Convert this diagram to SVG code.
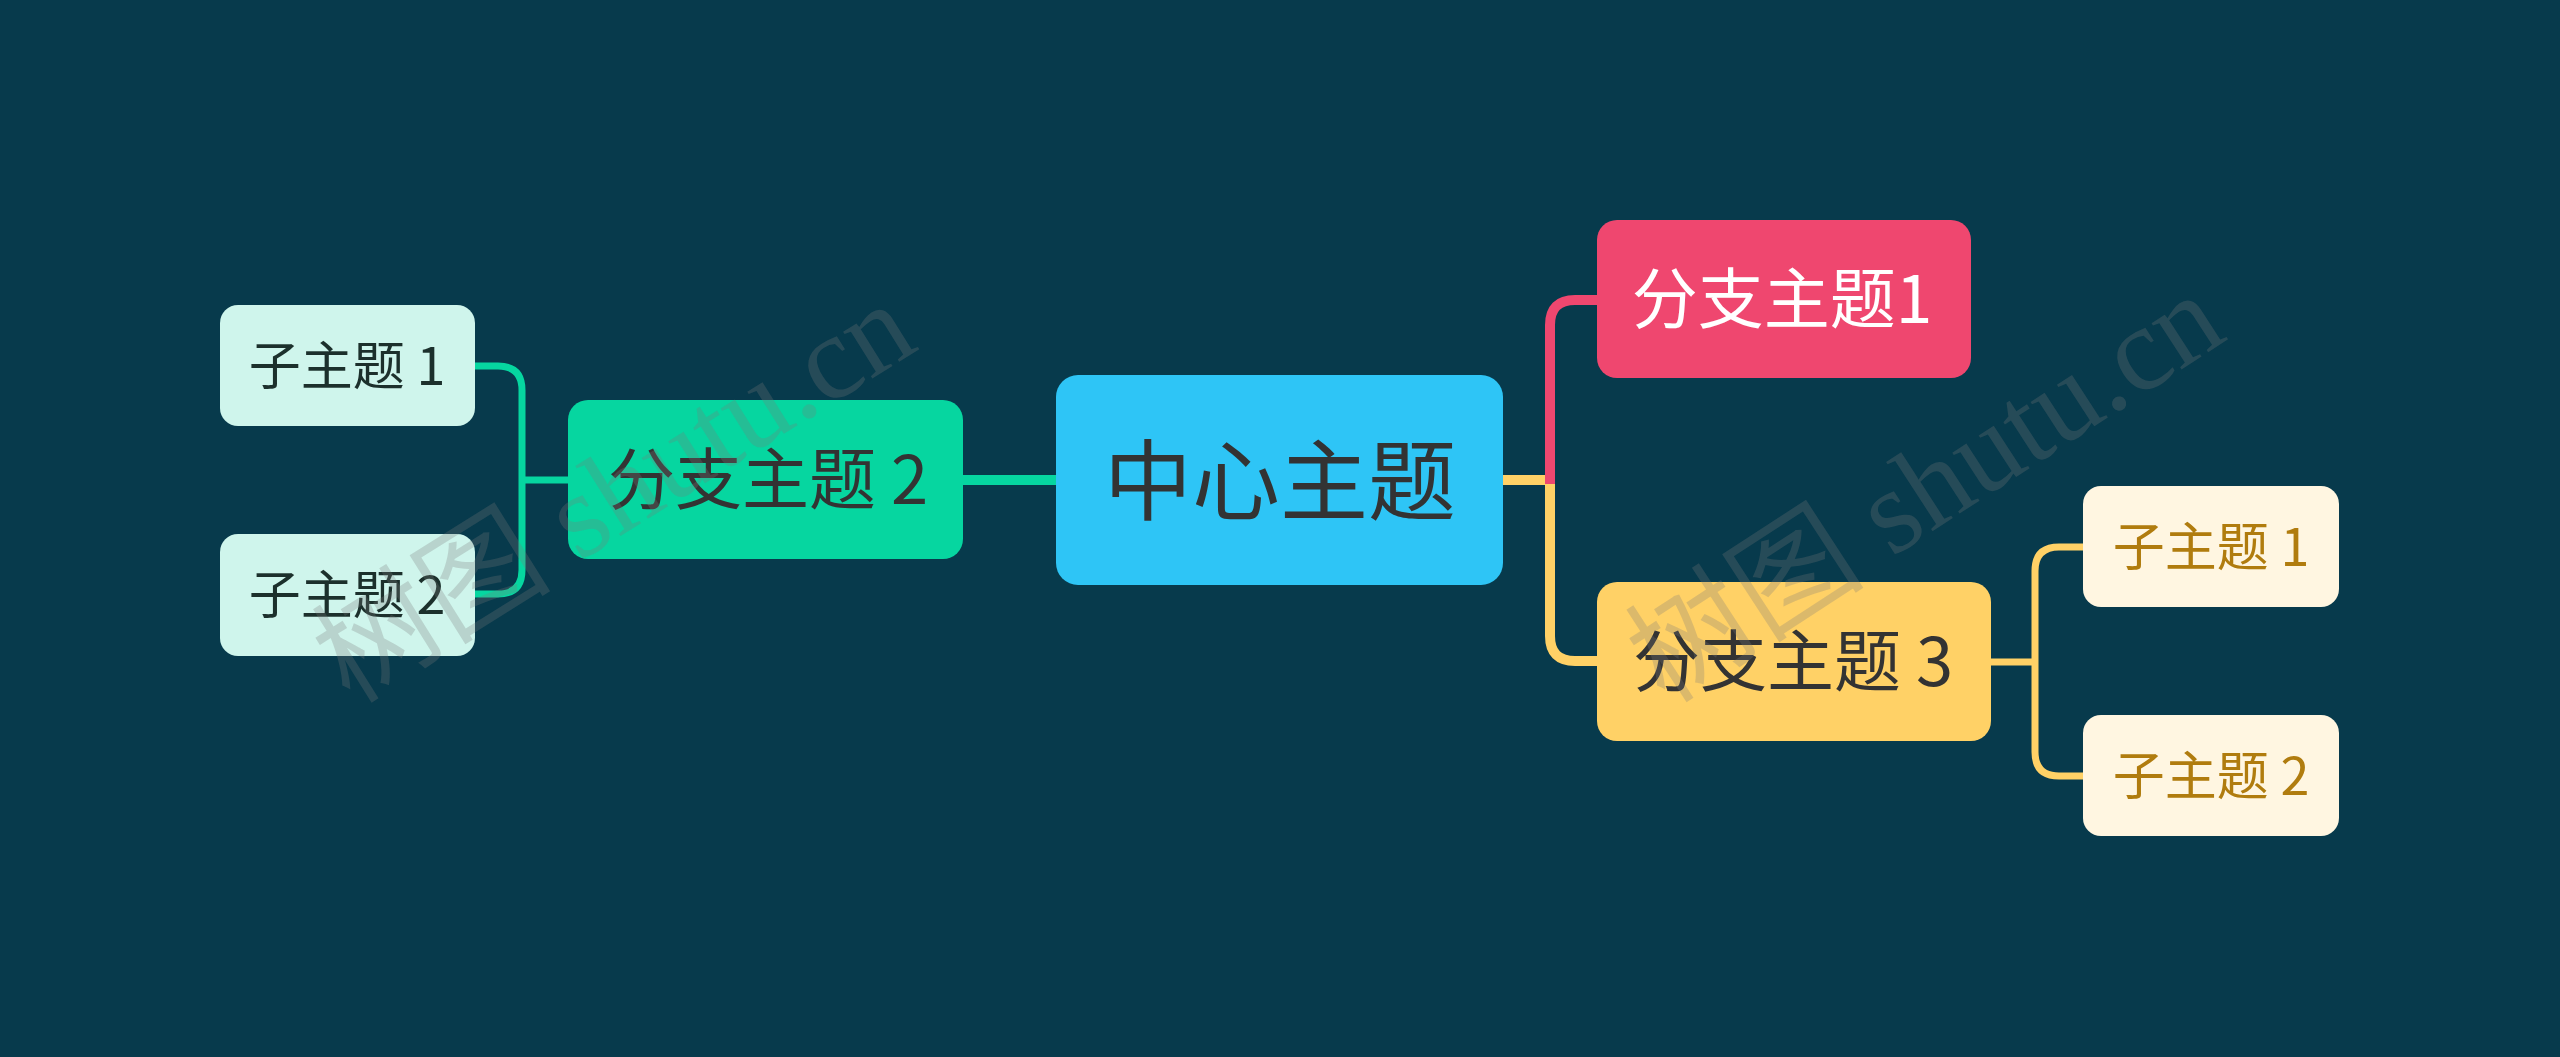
<svg xmlns="http://www.w3.org/2000/svg" width="2560" height="1057" viewBox="0 0 2560 1057">
<style>
.t{font-family:"Noto Sans CJK SC","Noto Sans",sans-serif;text-anchor:middle}
.c{fill:none;stroke-linecap:butt;stroke-linejoin:round}
.main{stroke-width:10}
.sub{stroke-width:7}
.wm{font-family:"Liberation Serif","Noto Sans CJK SC",serif;font-size:120px;fill:#7a7a7a;fill-opacity:0.27}
</style>
<rect x="0" y="0" width="2560" height="1057" fill="#073a4c"/>
<g id="connectors">
<path class="c main" d="M963 480 H1056" stroke="#06d6a0"/>
<path class="c sub" d="M568 480 H522" stroke="#06d6a0"/>
<path class="c sub" d="M475 366 H498 Q522 366 522 390 V570 Q522 594 498 594 H475" stroke="#06d6a0"/>
<path class="c main" d="M1503 480 H1550 V636 Q1550 661 1575 661 H1597" stroke="#ffd166"/>
<path class="c main" d="M1550 484 V325 Q1550 300 1575 300 H1597" stroke="#ef476f"/>
<path class="c sub" d="M1991 662 H2035" stroke="#ffd166"/>
<path class="c sub" d="M2084 547 H2059 Q2035 547 2035 571 V752 Q2035 776 2059 776 H2084" stroke="#ffd166"/>
</g>
<g id="center">
<rect x="1056" y="375" width="447" height="210" rx="22" fill="#2ec5f6"/>
<text class="t" x="1280" y="513" font-size="88" fill="#333333">中心主题</text>
</g>
<g id="branch1">
<rect x="1597" y="220" width="374" height="158" rx="20" fill="#ef476f"/>
<text class="t" x="1782" y="323" font-size="66" fill="#ffffff">分支主题1</text>
</g>
<g id="branch2">
<rect x="568" y="400" width="395" height="159" rx="20" fill="#06d6a0"/>
<text class="t" x="768" y="504" font-size="67" fill="#333333">分支主题 2</text>
</g>
<g id="branch3">
<rect x="1597" y="582" width="394" height="159" rx="20" fill="#ffd166"/>
<text class="t" x="1793" y="686" font-size="67" fill="#333333">分支主题 3</text>
</g>
<g id="child-l1">
<rect x="220" y="305" width="255" height="121" rx="18" fill="#cff5ec"/>
<text class="t" x="347" y="385" font-size="52" fill="#1c302c">子主题 1</text>
</g>
<g id="child-l2">
<rect x="220" y="534" width="255" height="122" rx="18" fill="#cff5ec"/>
<text class="t" x="347" y="614" font-size="52" fill="#1c302c">子主题 2</text>
</g>
<g id="child-r1">
<rect x="2083" y="486" width="256" height="121" rx="18" fill="#fff6e1"/>
<text class="t" x="2211" y="566" font-size="52" fill="#b07c0e">子主题 1</text>
</g>
<g id="child-r2">
<rect x="2083" y="715" width="256" height="121" rx="18" fill="#fff6e1"/>
<text class="t" x="2211" y="795" font-size="52" fill="#b07c0e">子主题 2</text>
</g>
<g id="watermark">
<text class="wm" transform="translate(350 705) rotate(-32)">树图 shutu.cn</text>
<text class="wm" transform="translate(1665 705) rotate(-33)">树图 shutu.cn</text>
</g>
</svg>
